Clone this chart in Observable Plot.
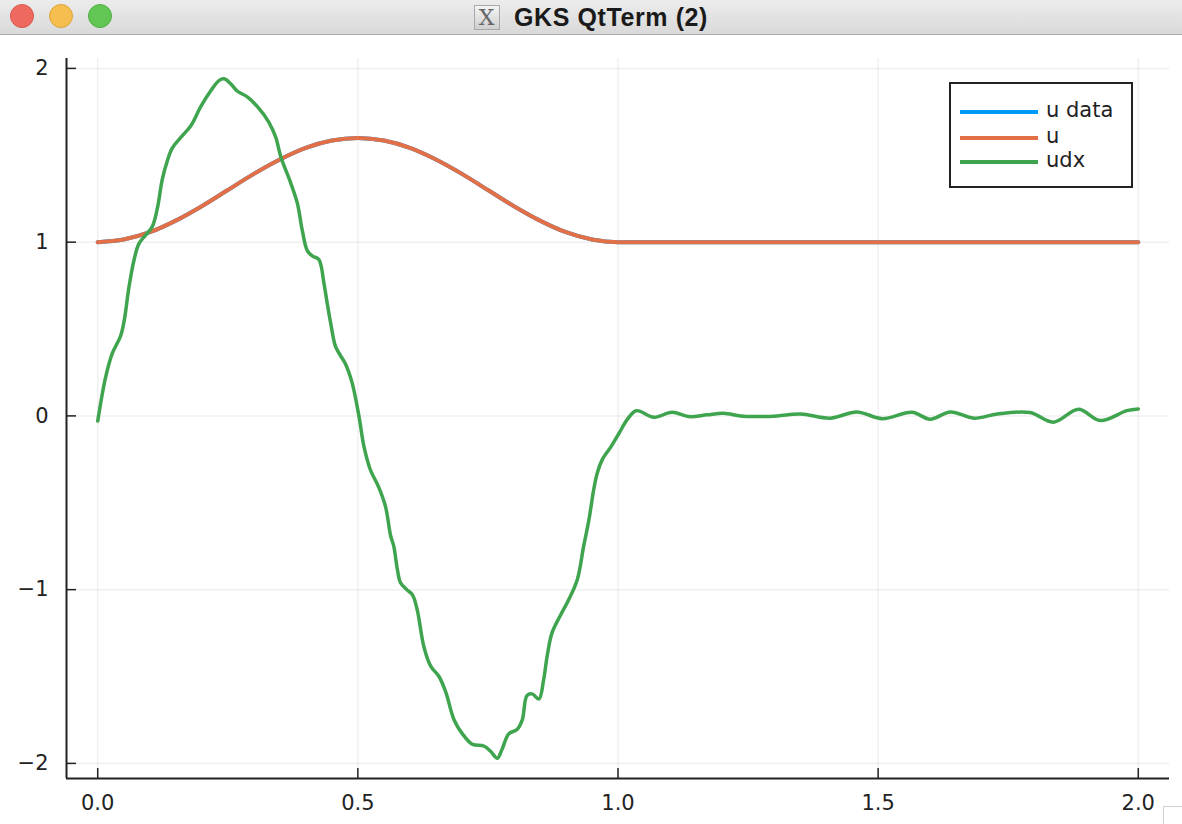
<!DOCTYPE html>
<html>
<head>
<meta charset="utf-8">
<script src="https://cdn.jsdelivr.net/npm/d3@7"></script>
<script src="https://cdn.jsdelivr.net/npm/@observablehq/plot@0.6"></script>
<style>
  html, body { margin: 0; padding: 0; }
  body { width: 1182px; height: 824px; overflow: hidden; background: #fff; position: relative; font-family: "DejaVu Sans", sans-serif; }
  #titlebar { position: absolute; left: 0; top: 0; width: 1182px; height: 34px; background: linear-gradient(#ececec, #d9d9d9); border-bottom: 1px solid #adadad; }
  .light { position: absolute; top: 4px; width: 24px; height: 24px; border-radius: 50%; }
  #title { position: absolute; left: 0; top: 0; width: 1182px; height: 34px; display: flex; align-items: center; justify-content: center; font-family: "Liberation Sans", Arial, sans-serif; font-weight: bold; font-size: 25px; color: #1a1a1a; letter-spacing: 0.6px; }
  #icon { display: inline-block; width: 26px; height: 25px; margin-right: 14px; border: 1px solid #a9a9a9; background: linear-gradient(#f4f4f4, #cfcfcf); font-family: "DejaVu Serif", serif; font-weight: normal; font-size: 22px; line-height: 24px; text-align: center; color: #666; box-sizing: border-box; }
  #chart { position: absolute; left: 0; top: 36px; }
  #legend { position: absolute; left: 949px; top: 82px; width: 184px; height: 106px; box-sizing: border-box; border: 2px solid #222; background: #fff; }
  .row { position: absolute; left: 0; height: 24px; width: 180px; }
  .row svg { position: absolute; left: 9px; top: 10px; }
  .row span { position: absolute; left: 95px; top: -1px; font-family: "DejaVu Sans", sans-serif; font-size: 21px; color: #222; line-height: 24px; }
  #grip { position: absolute; left: 1163px; top: 806px; width: 30px; height: 30px; border: 1px solid #d0d0d0; box-sizing: border-box; }
</style>
</head>
<body>
<div id="titlebar">
  <div class="light" style="left:10px;background:#ee6a5f;border:1px solid #d9574c;box-sizing:border-box;"></div>
  <div class="light" style="left:49px;background:#f5be4f;border:1px solid #dba33a;box-sizing:border-box;"></div>
  <div class="light" style="left:88px;background:#62c655;border:1px solid #4fae42;box-sizing:border-box;"></div>
  <div id="title"><span id="icon">X</span>GKS QtTerm (2)</div>
</div>
<div id="chart"></div>
<div id="legend"></div>
<div id="grip"></div>
<script>
// ---- data ----
const seriesNames = ["u data", "u", "udx"];
const seriesColors = ["#009AFA", "#E36F47", "#3EA44E"];

const uX = [0, 0.05, 0.1, 0.15, 0.2, 0.25, 0.3, 0.35, 0.4, 0.45, 0.5,
            0.55, 0.6, 0.65, 0.7, 0.75, 0.8, 0.85, 0.9, 0.95, 1.0, 1.25, 1.5, 1.75, 2.0];
const uDataY = [1.00, 1.015, 1.057, 1.124, 1.207, 1.30, 1.393, 1.476, 1.543, 1.585, 1.60,
                1.585, 1.543, 1.476, 1.393, 1.30, 1.207, 1.124, 1.057, 1.015, 1.00, 1.00, 1.00, 1.00, 1.00];
const uY = [1.00, 1.015, 1.057, 1.124, 1.207, 1.30, 1.393, 1.476, 1.543, 1.585, 1.60,
            1.585, 1.543, 1.476, 1.393, 1.30, 1.207, 1.124, 1.057, 1.015, 1.00, 1.00, 1.00, 1.00, 1.00];

const udxX = [0.000, 0.015, 0.028, 0.044, 0.051, 0.060, 0.070, 0.079, 0.092, 0.105,
              0.115, 0.124, 0.134, 0.143, 0.159, 0.179, 0.198, 0.217, 0.233, 0.243,
              0.256, 0.268, 0.288, 0.307, 0.329, 0.342, 0.352, 0.371, 0.384, 0.393,
              0.403, 0.413, 0.425, 0.435, 0.441, 0.448, 0.457, 0.466, 0.476, 0.489,
              0.502, 0.512, 0.524, 0.540, 0.553, 0.563, 0.569, 0.576, 0.582, 0.594,
              0.605, 0.614, 0.627, 0.640, 0.656, 0.669, 0.685, 0.701, 0.720, 0.742,
              0.755, 0.768, 0.777, 0.790, 0.806, 0.816, 0.825, 0.835, 0.848, 0.857,
              0.864, 0.873, 0.889, 0.905, 0.922, 0.934, 0.944, 0.953, 0.960, 0.970,
              0.986, 1.002, 1.018, 1.035, 1.069, 1.104, 1.136, 1.171, 1.203, 1.235,
              1.261, 1.306, 1.351, 1.408, 1.459, 1.508, 1.565, 1.600, 1.639, 1.684,
              1.729, 1.792, 1.837, 1.885, 1.927, 1.978, 2.000];
const udxY = [-0.03, 0.22, 0.36, 0.46, 0.55, 0.74, 0.90, 0.99, 1.04, 1.09,
              1.20, 1.36, 1.47, 1.54, 1.60, 1.67, 1.78, 1.87, 1.93, 1.94,
              1.91, 1.87, 1.835, 1.78, 1.69, 1.605, 1.49, 1.34, 1.22, 1.07,
              0.95, 0.92, 0.90, 0.76, 0.65, 0.53, 0.40, 0.35, 0.30, 0.19,
              0.00, -0.18, -0.31, -0.41, -0.52, -0.69, -0.75, -0.885, -0.96, -1.00,
              -1.03, -1.115, -1.33, -1.44, -1.50, -1.59, -1.75, -1.83, -1.89, -1.90,
              -1.93, -1.97, -1.92, -1.83, -1.805, -1.75, -1.61, -1.60, -1.63, -1.52,
              -1.38, -1.25, -1.15, -1.06, -0.94, -0.75, -0.60, -0.43, -0.33, -0.25,
              -0.18, -0.10, -0.02, 0.03, -0.008, 0.021, -0.004, 0.006, 0.015, 0.000,
              -0.004, 0.000, 0.011, -0.013, 0.023, -0.016, 0.021, -0.019, 0.023, -0.013,
              0.011, 0.019, -0.036, 0.038, -0.027, 0.03, 0.04];

const xTicks = [0, 0.5, 1, 1.5, 2];
const xTickLabels = ["0.0", "0.5", "1.0", "1.5", "2.0"];
const yTicks = [-2, -1, 0, 1, 2];
const yTickLabels = ["\u22122", "\u22121", "0", "1", "2"];

// ---- chart ----
const W = 1182, H = 788;
const mL = 66, mR = 13, mT = 22, mB = 46;
const xDomain = [-0.06, 2.06];
const yDomain = [-2.087, 2.057];

const uDataRows = uX.map((x, i) => ({x, y: uDataY[i]}));
const uRows = uX.map((x, i) => ({x, y: uY[i]}));
const udxRows = udxX.map((x, i) => ({x, y: udxY[i]}));

const chart = Plot.plot({
  width: W, height: H,
  marginLeft: mL, marginRight: mR, marginTop: mT, marginBottom: mB,
  style: {fontFamily: "DejaVu Sans", fontSize: "21px", color: "#222", background: "#fff", overflow: "visible"},
  x: {domain: xDomain, ticks: xTicks, tickFormat: d => xTickLabels[xTicks.indexOf(d)],
      tickSize: 0, tickPadding: 17, label: null},
  y: {domain: yDomain, ticks: yTicks, tickFormat: d => yTickLabels[yTicks.indexOf(d)],
      tickSize: 0, tickPadding: 18, label: null},
  marks: [
    Plot.ruleX(xTicks, {stroke: "#000", strokeOpacity: 0.06, strokeWidth: 1.5}),
    Plot.ruleY(yTicks, {stroke: "#000", strokeOpacity: 0.06, strokeWidth: 1.5}),
    Plot.line(uDataRows, {x: "x", y: "y", stroke: seriesColors[0], strokeWidth: 4, curve: "monotone-x"}),
    Plot.line(uRows, {x: "x", y: "y", stroke: seriesColors[1], strokeWidth: 4, curve: "monotone-x"}),
    Plot.line(udxRows, {x: "x", y: "y", stroke: seriesColors[2], strokeWidth: 3.5, curve: "catmull-rom"}),
    Plot.tickX(xTicks, {x: d => d, insetTop: H - mT - mB - 10, stroke: "#222", strokeWidth: 1.5}),
    Plot.tickY(yTicks, {y: d => d, insetRight: W - mL - mR - 10, stroke: "#222", strokeWidth: 1.5}),
    Plot.ruleX([xDomain[0]], {stroke: "#222", strokeWidth: 2}),
    Plot.ruleY([yDomain[0]], {stroke: "#222", strokeWidth: 2})
  ]
});
document.getElementById("chart").appendChild(chart);

// ---- legend ----
const legend = document.getElementById("legend");
const rowTops = [15, 41, 65];
seriesNames.forEach((name, i) => {
  const row = document.createElement("div");
  row.className = "row";
  row.style.top = rowTops[i] + "px";
  row.innerHTML = `<svg width="78" height="6"><line x1="0" y1="3" x2="78" y2="3" stroke="${seriesColors[i]}" stroke-width="4"/></svg><span>${name}</span>`;
  legend.appendChild(row);
});
</script>
</body>
</html>
